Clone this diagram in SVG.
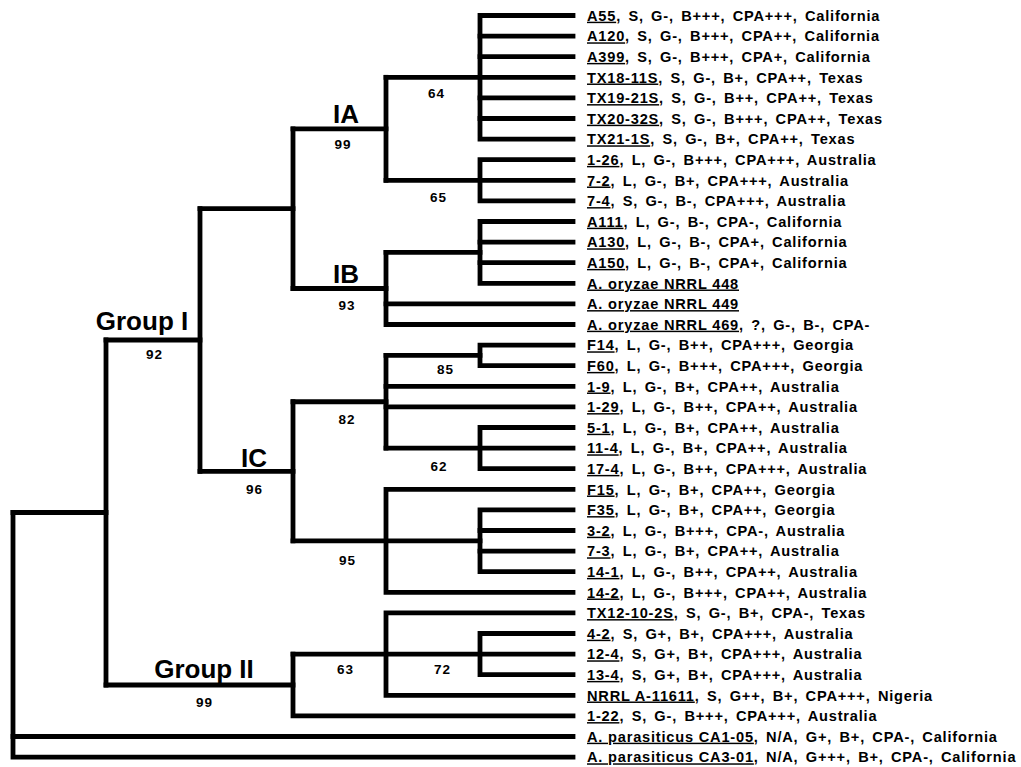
<svg xmlns="http://www.w3.org/2000/svg" width="1021" height="767" viewBox="0 0 1021 767">
<style>
.br{fill:none;stroke:#000;stroke-width:4.8;stroke-linecap:square;stroke-linejoin:miter}
.lf{font-family:"Liberation Sans",Arial,Helvetica,sans-serif;font-weight:bold;font-size:14.6px;letter-spacing:0.8px;word-spacing:2.5px;fill:#000}
.u{text-decoration:underline;word-spacing:0}
.cl{font-family:"Liberation Sans",Arial,Helvetica,sans-serif;font-weight:bold;font-size:26px;text-anchor:middle;fill:#000}
.bs{font-family:"Liberation Sans",Arial,Helvetica,sans-serif;font-weight:bold;font-size:13.5px;letter-spacing:1px;text-anchor:middle;fill:#000}
</style>
<rect width="1021" height="767" fill="#fff"/>
<g id="connectors" class="br">
<path d="M573,15.5 H480 V139.1 H573"/>
<path d="M480,36.1 H573 M480,56.7 H573 M480,97.9 H573 M480,118.5 H573"/>
<path d="M386,77.3 H573"/>
<path d="M573,159.7 H480 V200.9 H573"/>
<path d="M386,180.3 H573"/>
<path d="M386,77.3 V180.3"/>
<path d="M293,128.8 H386"/>
<path d="M573,221.5 H480 V283.3 H573"/>
<path d="M480,242.1 H573 M480,262.7 H573"/>
<path d="M386,252.4 H480"/>
<path d="M386,252.4 V324.5 H573"/>
<path d="M386,303.9 H573"/>
<path d="M293,288.5 H386"/>
<path d="M293,128.8 V288.5"/>
<path d="M200,208.6 H293"/>
<path d="M573,345.1 H480 V365.7 H573"/>
<path d="M386,355.4 H480"/>
<path d="M386,386.3 H573 M386,406.9 H573"/>
<path d="M573,427.5 H480 V468.7 H573"/>
<path d="M386,448.1 H573"/>
<path d="M386,355.4 V448.1"/>
<path d="M293,401.75 H386"/>
<path d="M573,489.3 H386 V592.3 H573"/>
<path d="M573,509.9 H480 V571.7 H573"/>
<path d="M480,530.5 H573 M480,551.1 H573"/>
<path d="M293,540.8 H480"/>
<path d="M293,401.75 V540.8"/>
<path d="M200,471.3 H293"/>
<path d="M200,208.6 V471.3"/>
<path d="M106,340 H200"/>
<path d="M573,612.9 H386 V695.3 H573"/>
<path d="M573,633.5 H480 V674.7 H573"/>
<path d="M293,654.1 H573"/>
<path d="M293,654.1 V715.9 H573"/>
<path d="M106,685 H293"/>
<path d="M106,340 V685"/>
<path d="M13,512.5 H106"/>
<path d="M13,512.5 V757.1 H573"/>
<path d="M13,736.5 H573"/>
</g>
<g id="clade-labels">
<g id="lbl-IA"><text class="cl" x="346" y="123">IA</text><text class="bs" x="343" y="149">99</text></g>
<g id="lbl-IA-a"><text class="bs" x="436.5" y="97.7">64</text></g>
<g id="lbl-IA-b"><text class="bs" x="438.5" y="201.5">65</text></g>
<g id="lbl-IB"><text class="cl" x="346" y="283">IB</text><text class="bs" x="347" y="310">93</text></g>
<g id="lbl-IC-a"><text class="bs" x="445.5" y="374">85</text></g>
<g id="lbl-IC-b"><text class="bs" x="347" y="424">82</text></g>
<g id="lbl-IC-c"><text class="bs" x="439" y="470.7">62</text></g>
<g id="lbl-IC-d"><text class="bs" x="347.5" y="565">95</text></g>
<g id="lbl-IC"><text class="cl" x="254" y="466.5">IC</text><text class="bs" x="254.5" y="494.3">96</text></g>
<g id="lbl-GroupI"><text class="cl" x="142" y="330">Group I</text><text class="bs" x="154.5" y="359">92</text></g>
<g id="lbl-GII-a"><text class="bs" x="345.5" y="674">63</text></g>
<g id="lbl-GII-b"><text class="bs" x="442.5" y="674">72</text></g>
<g id="lbl-GroupII"><text class="cl" x="204" y="678">Group II</text><text class="bs" x="204.5" y="706.7">99</text></g>
</g>
<g id="leaves" class="lf">
<g id="leaf-A55"><text x="587" y="20.7"><tspan class="u">A55</tspan>, S, G-, B+++, CPA+++, California</text></g>
<g id="leaf-A120"><text x="587" y="41.3"><tspan class="u">A120</tspan>, S, G-, B+++, CPA++, California</text></g>
<g id="leaf-A399"><text x="587" y="61.9"><tspan class="u">A399</tspan>, S, G-, B+++, CPA+, California</text></g>
<g id="leaf-TX18-11S"><text x="587" y="82.5"><tspan class="u">TX18-11S</tspan>, S, G-, B+, CPA++,  Texas</text></g>
<g id="leaf-TX19-21S"><text x="587" y="103.1"><tspan class="u">TX19-21S</tspan>, S, G-, B++, CPA++, Texas</text></g>
<g id="leaf-TX20-32S"><text x="587" y="123.7"><tspan class="u">TX20-32S</tspan>, S, G-, B+++, CPA++, Texas</text></g>
<g id="leaf-TX21-1S"><text x="587" y="144.3"><tspan class="u">TX21-1S</tspan>, S, G-, B+, CPA++, Texas</text></g>
<g id="leaf-1-26"><text x="587" y="164.9"><tspan class="u">1-26</tspan>, L, G-, B+++, CPA+++, Australia</text></g>
<g id="leaf-7-2"><text x="587" y="185.5"><tspan class="u">7-2</tspan>, L, G-, B+, CPA+++, Australia</text></g>
<g id="leaf-7-4"><text x="587" y="206.1"><tspan class="u">7-4</tspan>, S, G-, B-, CPA+++, Australia</text></g>
<g id="leaf-A111"><text x="587" y="226.7"><tspan class="u">A111</tspan>, L, G-, B-, CPA-, California</text></g>
<g id="leaf-A130"><text x="587" y="247.3"><tspan class="u">A130</tspan>, L, G-, B-, CPA+, California</text></g>
<g id="leaf-A150"><text x="587" y="267.9"><tspan class="u">A150</tspan>, L, G-, B-, CPA+, California</text></g>
<g id="leaf-NRRL448"><text x="587" y="288.5"><tspan class="u">A. oryzae NRRL 448</tspan></text></g>
<g id="leaf-NRRL449"><text x="587" y="309.1"><tspan class="u">A. oryzae NRRL 449</tspan></text></g>
<g id="leaf-NRRL469"><text x="587" y="329.7"><tspan class="u">A. oryzae NRRL 469</tspan>, ?, G-, B-, CPA-</text></g>
<g id="leaf-F14"><text x="587" y="350.3"><tspan class="u">F14</tspan>, L, G-, B++, CPA+++, Georgia</text></g>
<g id="leaf-F60"><text x="587" y="370.9"><tspan class="u">F60</tspan>, L, G-, B+++, CPA+++, Georgia</text></g>
<g id="leaf-1-9"><text x="587" y="391.5"><tspan class="u">1-9</tspan>, L, G-, B+, CPA++, Australia</text></g>
<g id="leaf-1-29"><text x="587" y="412.1"><tspan class="u">1-29</tspan>, L, G-, B++, CPA++, Australia</text></g>
<g id="leaf-5-1"><text x="587" y="432.7"><tspan class="u">5-1</tspan>, L, G-, B+, CPA++, Australia</text></g>
<g id="leaf-11-4"><text x="587" y="453.3"><tspan class="u">11-4</tspan>, L, G-, B+, CPA++, Australia</text></g>
<g id="leaf-17-4"><text x="587" y="473.9"><tspan class="u">17-4</tspan>, L, G-, B++, CPA+++, Australia</text></g>
<g id="leaf-F15"><text x="587" y="494.5"><tspan class="u">F15</tspan>, L, G-, B+, CPA++, Georgia</text></g>
<g id="leaf-F35"><text x="587" y="515.1"><tspan class="u">F35</tspan>, L, G-, B+, CPA++, Georgia</text></g>
<g id="leaf-3-2"><text x="587" y="535.7"><tspan class="u">3-2</tspan>, L, G-, B+++, CPA-, Australia</text></g>
<g id="leaf-7-3"><text x="587" y="556.3"><tspan class="u">7-3</tspan>, L, G-, B+, CPA++, Australia</text></g>
<g id="leaf-14-1"><text x="587" y="576.9"><tspan class="u">14-1</tspan>, L, G-, B++, CPA++, Australia</text></g>
<g id="leaf-14-2"><text x="587" y="597.5"><tspan class="u">14-2</tspan>, L, G-, B+++, CPA++, Australia</text></g>
<g id="leaf-TX12-10-2S"><text x="587" y="618.1"><tspan class="u">TX12-10-2S</tspan>, S, G-, B+, CPA-, Texas</text></g>
<g id="leaf-4-2"><text x="587" y="638.7"><tspan class="u">4-2</tspan>, S, G+, B+, CPA+++, Australia</text></g>
<g id="leaf-12-4"><text x="587" y="659.3"><tspan class="u">12-4</tspan>, S, G+, B+, CPA+++, Australia</text></g>
<g id="leaf-13-4"><text x="587" y="679.9"><tspan class="u">13-4</tspan>, S, G+, B+, CPA+++, Australia</text></g>
<g id="leaf-NRRL-A-11611"><text x="587" y="700.5"><tspan class="u">NRRL A-11611</tspan>, S, G++, B+, CPA+++, Nigeria</text></g>
<g id="leaf-1-22"><text x="587" y="721.1"><tspan class="u">1-22</tspan>, S, G-, B+++, CPA+++, Australia</text></g>
<g id="leaf-CA1-05"><text x="587" y="741.7"><tspan class="u">A. parasiticus CA1-05</tspan>, N/A, G+, B+, CPA-, California</text></g>
<g id="leaf-CA3-01"><text x="587" y="762.3"><tspan class="u">A. parasiticus CA3-01</tspan>, N/A, G+++, B+, CPA-, California</text></g>
</g>
</svg>
